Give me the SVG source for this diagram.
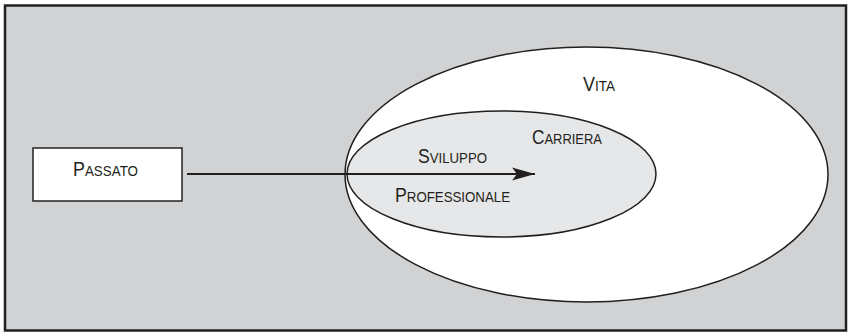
<svg xmlns="http://www.w3.org/2000/svg" width="851" height="335" viewBox="0 0 851 335">
  <style>
    .lbl { font-family: "Liberation Sans Narrow", "Liberation Sans", Arial, sans-serif; fill: #231f20; }
    .big { font-size: 20px; }
    .sm { font-size: 15px; }
    .ln { stroke: #231f20; fill: none; }
  </style>
  <defs>
    <marker id="arr" markerWidth="24" markerHeight="14" refX="23" refY="7" orient="auto" markerUnits="userSpaceOnUse">
      <path d="M0,0.5 L23,7 L0,13.5 L5,7 Z" fill="#231f20"/>
    </marker>
  </defs>
  <rect x="5" y="5.5" width="841" height="325" fill="#d1d2d4" stroke="#231f20" stroke-width="2.5"/>
  <g id="vita">
    <ellipse cx="586.5" cy="174.5" rx="241.5" ry="127.5" fill="#ffffff" stroke="#231f20" stroke-width="1.5"/>
    <text class="lbl" x="583" y="91" textLength="32" lengthAdjust="spacingAndGlyphs"><tspan class="big">V</tspan><tspan class="sm">ITA</tspan></text>
  </g>
  <g id="carriera">
    <ellipse cx="501.5" cy="174" rx="154.5" ry="63" fill="#e6e7e8" stroke="#231f20" stroke-width="1.5"/>
    <text class="lbl" x="532" y="144" textLength="70" lengthAdjust="spacingAndGlyphs"><tspan class="big">C</tspan><tspan class="sm">ARRIERA</tspan></text>
  </g>
  <g id="passato">
    <rect x="33" y="148" width="149" height="53" fill="#ffffff" stroke="#231f20" stroke-width="1.5"/>
    <text class="lbl" x="73" y="176" textLength="65" lengthAdjust="spacingAndGlyphs"><tspan class="big">P</tspan><tspan class="sm">ASSATO</tspan></text>
  </g>
  <g id="connectors">
    <line class="ln" x1="187" y1="174" x2="535" y2="174" stroke-width="2" marker-end="url(#arr)"/>
  </g>
  <g id="arrow-label">
    <text class="lbl" x="418" y="163" textLength="69" lengthAdjust="spacingAndGlyphs"><tspan class="big">S</tspan><tspan class="sm">VILUPPO</tspan></text>
    <text class="lbl" x="395" y="202" textLength="115" lengthAdjust="spacingAndGlyphs"><tspan class="big">P</tspan><tspan class="sm">ROFESSIONALE</tspan></text>
  </g>
</svg>
